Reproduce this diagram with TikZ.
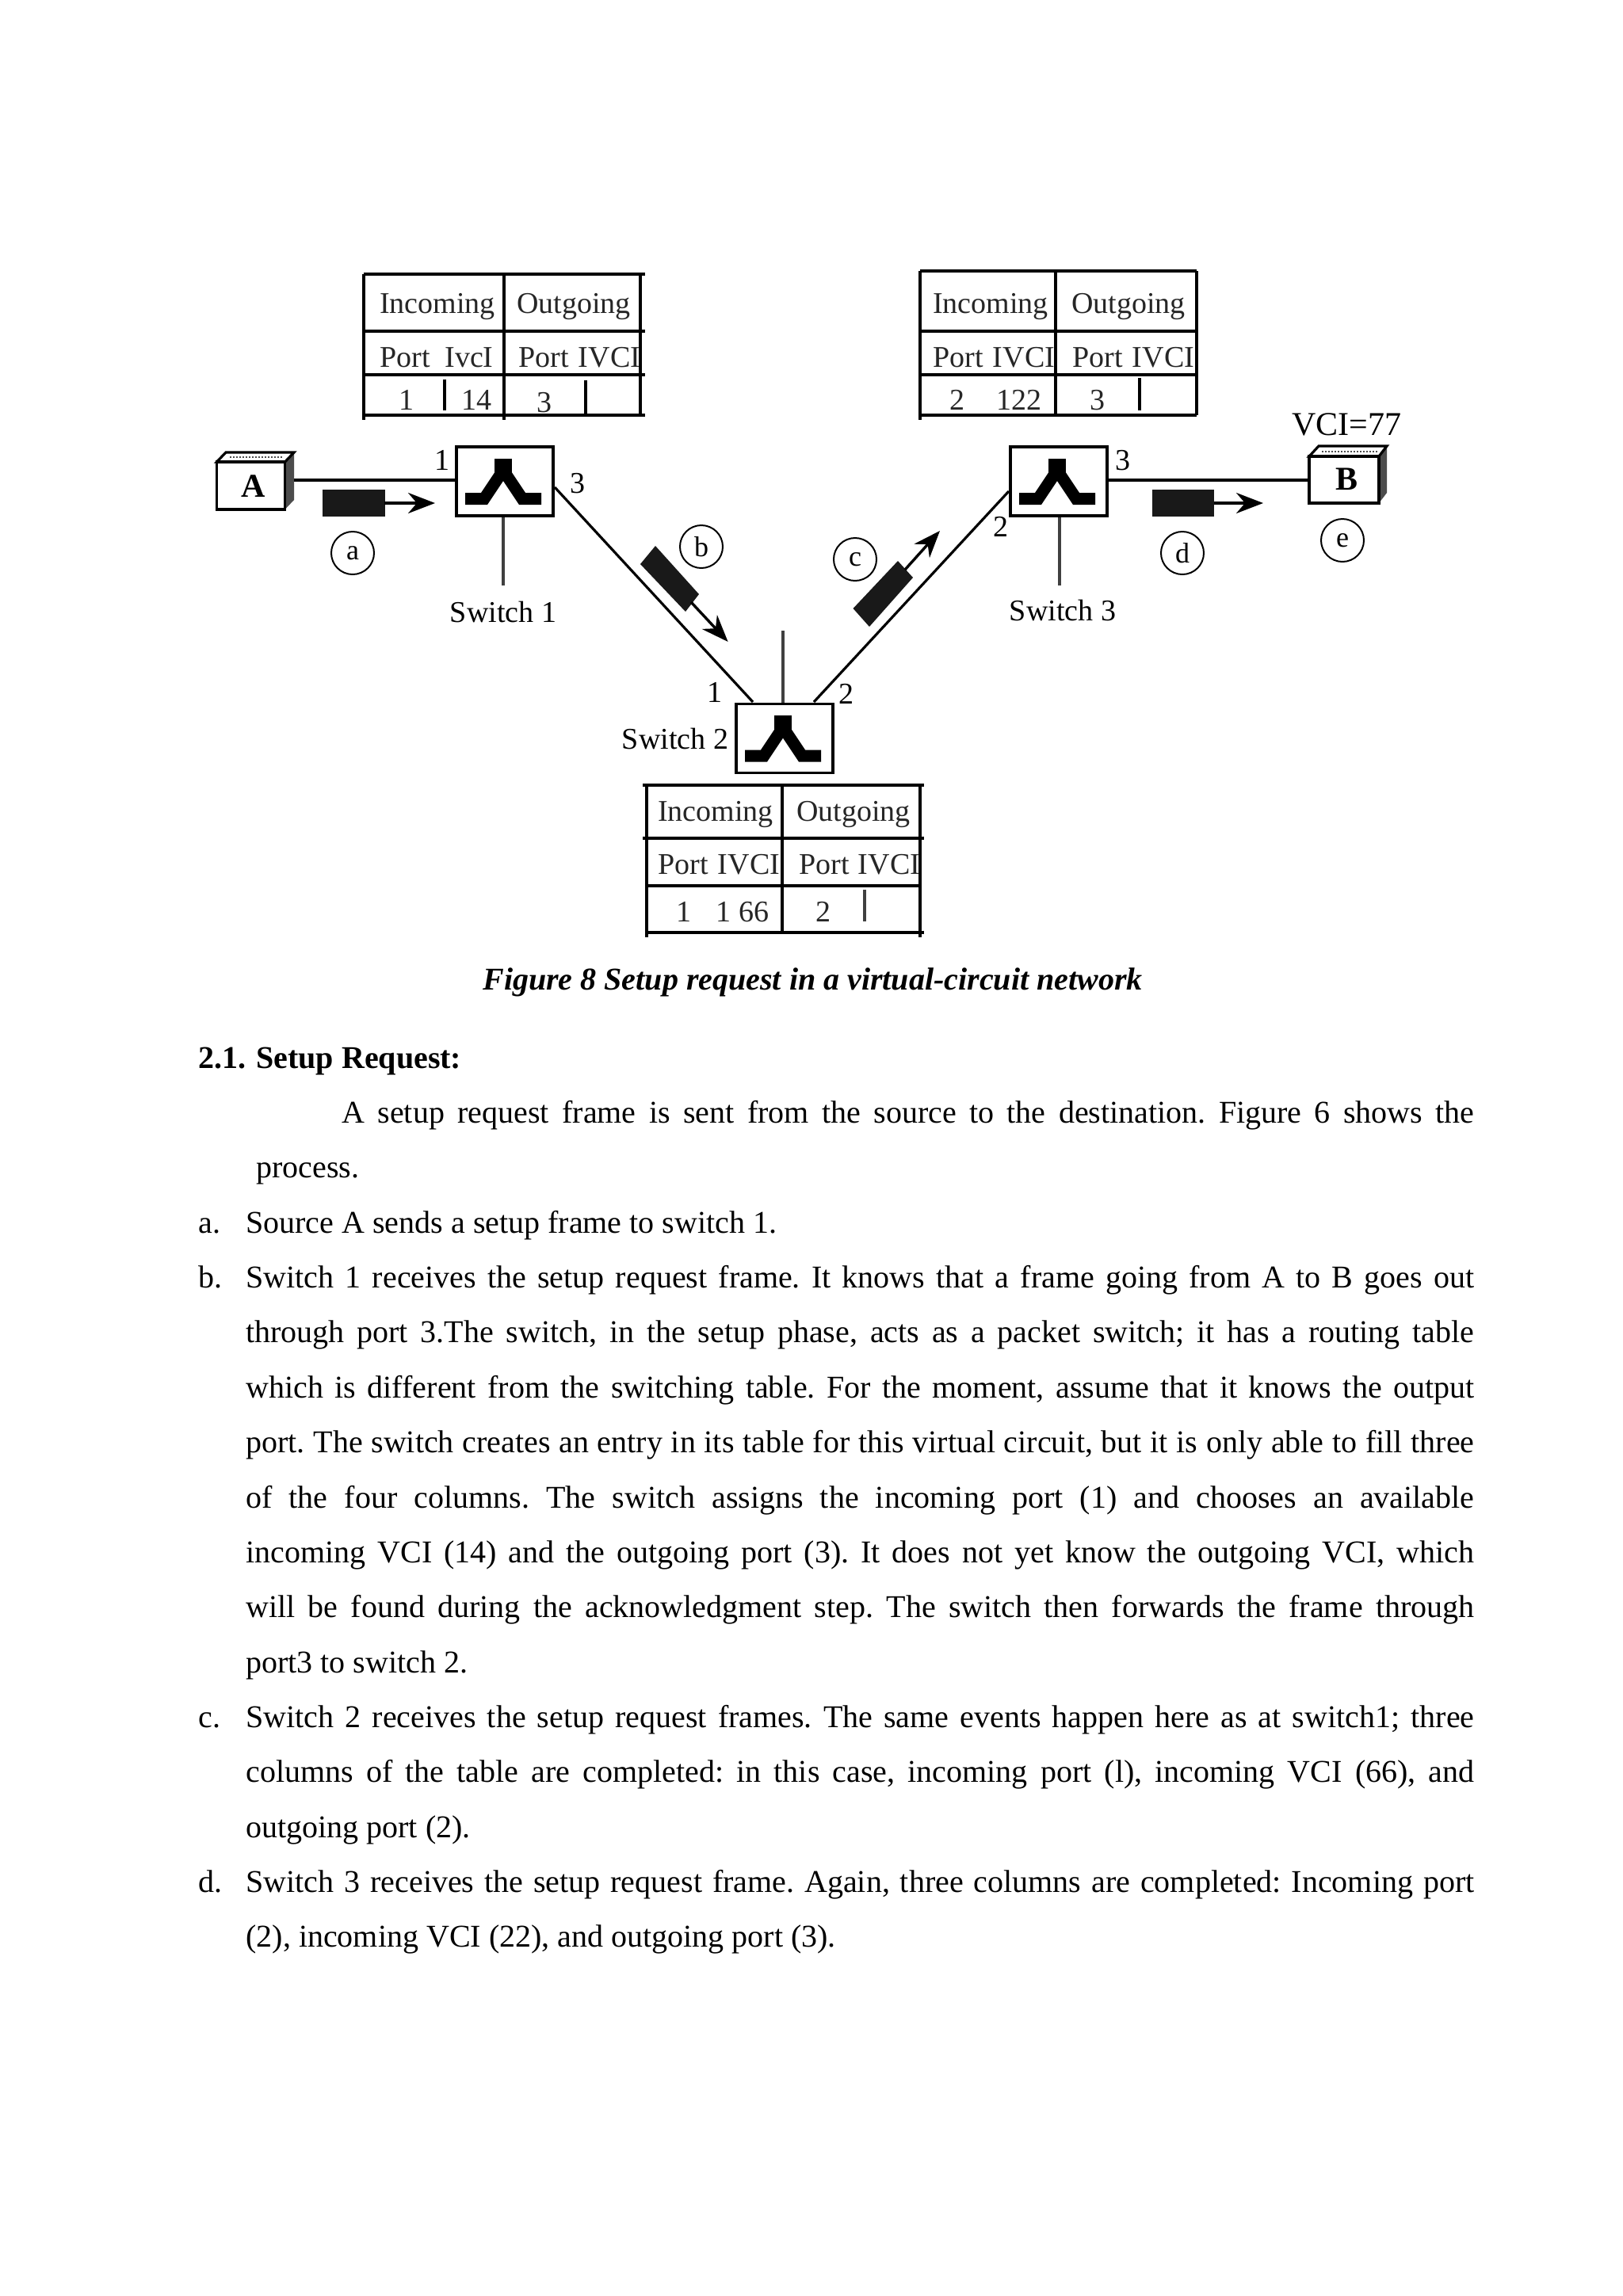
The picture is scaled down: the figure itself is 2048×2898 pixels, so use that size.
\documentclass[tikz,border=0pt]{standalone}
\usepackage{fontspec}
\setmainfont{Liberation Serif}
\usetikzlibrary{arrows.meta}
\tolerance=9999 \hbadness=10000 \hfuzz=50pt
\frenchspacing
\tikzset{
  tl/.style={line width=2pt,black},
  lnk/.style={line width=1.6pt,black},
  stemline/.style={line width=1.6pt,black!75},
  figt/.style={anchor=base,inner sep=0pt,font=\fontsize{19}{22}\selectfont,text=black!85},
  figb/.style={anchor=center,inner sep=0pt,font=\fontsize{21}{24}\selectfont\bfseries},
  port/.style={anchor=base,inner sep=0pt,font=\fontsize{19}{22}\selectfont},
  circ/.style={circle,draw,line width=1pt,minimum size=27pt,inner sep=0pt,font=\fontsize{18}{20}\selectfont},
  swbox/.style={draw,line width=1.8pt,minimum width=61pt,minimum height=43.5pt,inner sep=0pt,fill=white},
  pkt/.style={fill=black!90,draw=none},
  pa/.style={-{Stealth[length=17pt,width=13pt]},line width=1.7pt},
  body/.style={anchor=north west,inner sep=0pt,align=justify,font=\fontsize{20}{34.7}\selectfont},
  lab/.style={anchor=base west,inner sep=0pt,font=\fontsize{20}{24}\selectfont},
  swsym/.pic={
    \draw[line width=7.5pt,miter limit=10] (-50,22)--(-26,22)--(-2,-14)--(22,22)--(46,22);
    \draw[line width=11pt] (-2,-10)--(-2,-29);
  }
}
\newcommand{\fs}{\rule{0pt}{20pt}}
\begin{document}
\begin{tikzpicture}[x=0.5pt,y=-0.5pt]
\useasboundingbox (0,0) rectangle (2048,2898);
\fill[white] (0,0) rectangle (2048,2898);

% Table 1
\draw[tl] (459,346)--(459,530) (636,346)--(636,530) (808,346)--(808,524);
\draw[tl] (459,346)--(814,346) (459,418)--(814,418) (459,473)--(814,473) (459,524)--(814,524);
\draw[tl] (560.5,479)--(560.5,518) (739,480)--(739,522);
\node[figt] (ta1) at (552,395) {Incoming};
\node[figt] (ta2) at (724,395) {Outgoing};
\node[figt] (ta3) at (511,463) {Port};
\node[figt] (ta4) at (592,463) {IvcI};
\node[figt] (ta5) at (686,463) {Port};
\node[figt] (ta6) at (769,463) {IVCI};
\node[figt] (ta7) at (513,517) {1};
\node[figt] (ta8) at (601,517) {14};
\node[figt] (ta9) at (687,520) {3};

% Table 3
\draw[tl] (1161,342)--(1161,530) (1332,342)--(1332,524) (1510,342)--(1510,524);
\draw[tl] (1161,342)--(1510,342) (1161,418)--(1510,418) (1161,473)--(1510,473) (1161,524)--(1510,524);
\draw[tl] (1438,477)--(1438,518);
\node[figt] (tc1) at (1250,395) {Incoming};
\node[figt] (tc2) at (1424,395) {Outgoing};
\node[figt] (tc3) at (1209,463) {Port};
\node[figt] (tc4) at (1292,463) {IVCI};
\node[figt] (tc5) at (1385,463) {Port};
\node[figt] (tc6) at (1468,463) {IVCI};
\node[figt] (tc7) at (1208,517) {2};
\node[figt] (tc8) at (1286,517) {122};
\node[figt] (tc9) at (1385,517) {3};

% Table 2
\draw[tl] (816,991)--(816,1183) (987,991)--(987,1177) (1161,991)--(1161,1183);
\draw[tl] (811,991)--(1166,991) (811,1058)--(1166,1058) (816,1118)--(1161,1118) (816,1177)--(1166,1177);
\draw[line width=2.4pt,black!75] (1091,1123)--(1091,1163);
\node[figt] (tb1) at (903,1036) {Incoming};
\node[figt] (tb2) at (1077,1036) {Outgoing};
\node[figt] (tb3) at (862,1103) {Port};
\node[figt] (tb4) at (945,1103) {IVCI};
\node[figt] (tb5) at (1040,1103) {Port};
\node[figt] (tb6) at (1122,1103) {IVCI};
\node[figt] (tb7) at (863,1163) {1};
\node[figt] (tb8) at (937,1163) {1 66};
\node[figt] (tb9) at (1039,1163) {2};

% Switches
\node[swbox] (s1) at (637,607.5) {};
\node[swbox] (s2) at (990,932) {};
\node[swbox] (s3) at (1336,607.5) {};
\pic at (s1) {swsym};
\pic at (s2) {swsym};
\pic at (s3) {swsym};

% Hosts
\fill[black!70] (359.6,583)--(371,571)--(371,631)--(359.6,643)--cycle;
\draw[line width=1.6pt,fill=white] (273.5,583)--(285,571)--(371,571)--(359.6,583)--cycle;
\draw[line width=1pt,densely dotted,black!70] (290,577)--(358,577);
\node[draw,line width=1.8pt,minimum width=43pt,minimum height=30pt,inner sep=0pt,fill=white] (hosta) at (316.5,613) {};
\node[figb] (hostal) at (320,614) {A};
\fill[black!70] (1740,576)--(1750,563)--(1750,622)--(1740,635)--cycle;
\draw[line width=1.6pt,fill=white] (1652,576)--(1664,563)--(1750,563)--(1740,576)--cycle;
\draw[line width=1pt,densely dotted,black!70] (1668,570)--(1738,570);
\node[draw,line width=1.8pt,minimum width=44pt,minimum height=29.5pt,inner sep=0pt,fill=white] (hostb) at (1696,605.5) {};
\node[figb] (hostbl) at (1699,605) {B};

% Connector ends
\coordinate (aout) at (371,606);
\coordinate (bin) at (1652,606);
\coordinate (s1p3) at (700,615);
\coordinate (s2p1) at (950,886);
\coordinate (s2p2) at (1027,886);
\coordinate (s3p2) at (1273,620);
\coordinate (s1stem) at (635,739);
\coordinate (s3stem) at (1337,739);
\coordinate (s2stem) at (988,796);

% Links
\draw[lnk] (aout) -- (aout -| s1.west);
\draw[lnk] (bin -| s3.east) -- (bin);
\draw[lnk] (s1p3) -- (s2p1);
\draw[lnk] (s2p2) -- (s3p2);
\draw[stemline] (s1stem |- s1.south) -- (s1stem);
\draw[stemline] (s3stem |- s3.south) -- (s3stem);
\draw[stemline] (s2stem |- s2.north) -- (s2stem);

% Packets
\fill[pkt] (407,618) rectangle (485.5,652);
\draw[pa] (485,635) -- (549,635);
\fill[pkt] (1454,618) rectangle (1532,652);
\draw[pa] (1532,635) -- (1594,635);
\fill[pkt] (827,689)--(808,712)--(865,772)--(882,750)--cycle;
\draw[pa] (872,760) -- (918.6,810);
\fill[pkt] (1133,708)--(1076.5,768)--(1097,791)--(1152,729)--cycle;
\draw[pa] (1142,719) -- (1186,670);

% Circles
\node[circ] (ca) at (445,698) {a};
\node[circ] (cb) at (885,690) {b};
\node[circ] (cc) at (1079,706) {c};
\node[circ] (cd) at (1492,698) {d};
\node[circ] (ce) at (1694,682) {e};

% Figure labels
\node[port] (pa1) at (558,593) {1};
\node[port] (pa3) at (729,622) {3};
\node[port] (pb1) at (902,886) {1};
\node[port] (pb2) at (1068,888) {2};
\node[port] (pc2) at (1263,677) {2};
\node[port] (pc3) at (1417,593) {3};
\node[port] (sw1) at (635,785) {Switch 1};
\node[port] (sw2) at (852,945) {Switch 2};
\node[port] (sw3) at (1341,783) {Switch 3};
\node[port,font=\fontsize{21}{24}\selectfont] (vci) at (1699,549) {VCI=77};

% Caption
\node[anchor=base,inner sep=0pt,font=\fontsize{20}{24}\selectfont\bfseries\itshape] (cap) at (1025.5,1249) {Figure 8 Setup request in a virtual-circuit network};

% Body text
\node[lab,font=\fontsize{20}{24}\selectfont\bfseries] (h1) at (250,1348) {2.1.};
\node[lab,font=\fontsize{20}{24}\selectfont\bfseries] (h2) at (323,1348) {Setup Request:};
\node[body,text width=768.5pt] (p0) at (323,1377) {\fs\hspace{54pt}A setup request frame is sent from the source to the destination. Figure 6 shows the\linebreak process.};
\node[lab] (la) at (250,1556) {a.};
\node[body,text width=775pt] (pa) at (310,1516) {\fs Source A sends a setup frame to switch 1.};
\node[lab] (lb) at (250,1625) {b.};
\node[body,text width=775pt] (pb) at (310,1585) {\fs Switch 1 receives the setup request frame. It knows that a frame going from A to B goes out\linebreak through port 3.The switch, in the setup phase, acts as a packet switch; it has a routing table\linebreak which is different from the switching table. For the moment, assume that it knows the output\linebreak port. The switch creates an entry in its table for this virtual circuit, but it is only able to fill three\linebreak of the four columns. The switch assigns the incoming port (1) and chooses an available\linebreak incoming VCI (14) and the outgoing port (3). It does not yet know the outgoing VCI, which\linebreak will be found during the acknowledgment step. The switch then forwards the frame through\linebreak port3 to switch 2.};
\node[lab] (lc) at (250,2180) {c.};
\node[body,text width=775pt] (pc) at (310,2140) {\fs Switch 2 receives the setup request frames. The same events happen here as at switch1; three\linebreak columns of the table are completed: in this case, incoming port (l), incoming VCI (66), and\linebreak outgoing port (2).};
\node[lab] (ld) at (250,2388) {d.};
\node[body,text width=775pt] (pd) at (310,2348) {\fs Switch 3 receives the setup request frame. Again, three columns are completed: Incoming port\linebreak (2), incoming VCI (22), and outgoing port (3).};
\end{tikzpicture}
\end{document}
